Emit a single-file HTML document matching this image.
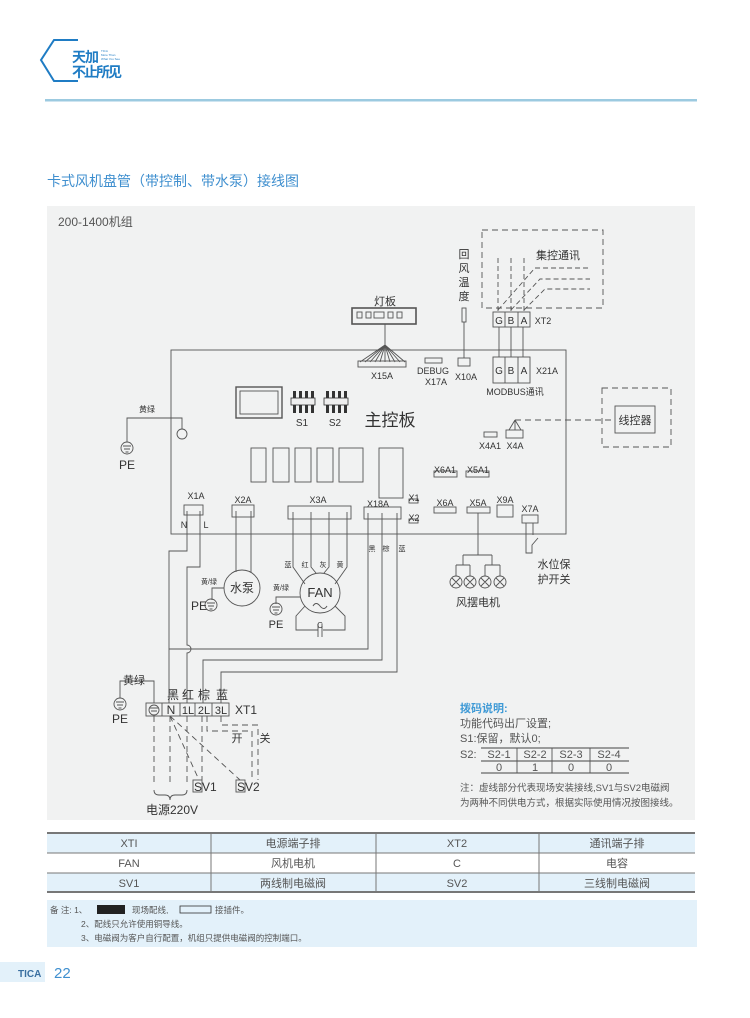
<!DOCTYPE html>
<html><head><meta charset="utf-8"><style>
body{margin:0;background:#fff;}
svg{display:block;font-family:"Liberation Sans","Noto Sans CJK SC",sans-serif;}
</style></head><body>
<svg width="750" height="1018" viewBox="0 0 750 1018" xmlns="http://www.w3.org/2000/svg">
<rect width="750" height="1018" fill="#fff"/>
<!-- logo -->
<path d="M78 40 L54 40 L41 60 L54 81 L78 81" fill="none" stroke="#1f7cc4" stroke-width="2"/>
<text x="72" y="62" font-size="14" font-weight="bold" fill="#1f7cc4" letter-spacing="-1">天加</text>
<text x="72" y="77" font-size="14" font-weight="bold" fill="#1f7cc4" letter-spacing="-2">不止所见</text>
<text x="101" y="52" font-size="3" fill="#1f7cc4">TICA</text>
<text x="101" y="56" font-size="3" fill="#1f7cc4">More Than</text>
<text x="101" y="60" font-size="3" fill="#1f7cc4">What You See</text>
<rect x="45" y="99" width="652" height="2.5" fill="#9ccae0"/>
<text x="47" y="186" font-size="14" fill="#3f8fcf">卡式风机盘管（带控制、带水泵）接线图</text>
<rect x="47" y="206" width="648" height="614" fill="#f1f2f2"/>
<text x="58" y="226" font-size="12" fill="#555">200-1400机组</text>

<g stroke="#555" stroke-width="0.9" fill="none">
<rect x="171" y="350" width="395" height="184"/>
<rect x="352" y="308" width="64" height="16" stroke-width="1.6"/>
<rect x="357" y="312" width="5" height="6"/><rect x="366" y="312" width="5" height="6"/><rect x="374" y="312" width="10" height="6"/><rect x="388" y="312" width="5" height="6"/><rect x="397" y="312" width="5" height="6"/>
<line x1="385" y1="324" x2="385" y2="345"/>
<path d="M385 345 L360 362 M385 345 L365 362 M385 345 L370 362 M385 345 L375 362 M385 345 L380 362 M385 345 L385 362 M385 345 L390 362 M385 345 L395 362 M385 345 L400 362 M385 345 L405 362"/>
<rect x="358" y="361" width="48" height="6"/>
<rect x="425" y="358" width="17" height="5"/>
<rect x="458" y="358" width="12" height="8"/>
<line x1="464" y1="322" x2="464" y2="358"/>
<rect x="462" y="308" width="4" height="14"/>
<rect x="482" y="230" width="121" height="78" stroke-dasharray="6,4"/>
<g stroke-dasharray="5,3">
<line x1="498" y1="258" x2="498" y2="312"/><line x1="511" y1="258" x2="511" y2="312"/><line x1="524" y1="258" x2="524" y2="312"/>
<path d="M498 310 L535 268 L590 268 M511 310 L540 279 L590 279 M524 310 L545 289 L590 289"/>
</g>
<rect x="493" y="312" width="37" height="15" fill="#f1f2f2"/><line x1="505" y1="312" x2="505" y2="327"/><line x1="518" y1="312" x2="518" y2="327"/>
<line x1="499" y1="327" x2="499" y2="357"/><line x1="511" y1="327" x2="511" y2="357"/><line x1="523" y1="327" x2="523" y2="357"/>
<rect x="493" y="357" width="37" height="26"/><line x1="505" y1="357" x2="505" y2="383"/><line x1="518" y1="357" x2="518" y2="383"/>
<rect x="602" y="388" width="69" height="59" stroke-dasharray="6,4"/>
<rect x="615" y="406" width="40" height="27"/>
<path d="M515 420 L602 420 L615 420" stroke-dasharray="6,4"/>
<path d="M515 420 L509 430 M515 420 L515 430 M515 420 L521 430"/>
<rect x="484" y="432" width="13" height="5"/><rect x="506" y="430" width="17" height="8"/>
<rect x="236" y="387" width="46" height="31" stroke-width="1.4"/><rect x="240" y="391" width="38" height="23"/>
<rect x="251" y="448" width="15" height="34"/><rect x="273" y="448" width="16" height="34"/><rect x="295" y="448" width="16" height="34"/><rect x="317" y="448" width="16" height="34"/><rect x="339" y="448" width="24" height="34"/>
<rect x="379" y="448" width="24" height="50"/>
<rect x="434" y="471" width="23" height="6"/><rect x="466" y="471" width="23" height="6"/>
<circle cx="182" cy="434" r="5"/>
<path d="M182 429 L182 418 L127 418 L127 442"/>
<rect x="184" y="505" width="19" height="10"/><rect x="232" y="505" width="22" height="12"/>
<rect x="288" y="506" width="63" height="13"/><rect x="364" y="507" width="37" height="12"/>
<rect x="409" y="499" width="9" height="4"/><rect x="409" y="519" width="9" height="4"/>
<rect x="434" y="507" width="22" height="6"/><rect x="467" y="507" width="23" height="6"/>
<rect x="497" y="505" width="16" height="12"/><rect x="522" y="515" width="16" height="8"/>
<path d="M187 511 L187 551 L169 551 L169 703"/>
<path d="M200 511 L200 567 L187 567 L187 645 A4 4 0 0 1 187 653 L187 703" />
<path d="M368 513 L368 649 L169 649"/>
<path d="M382 513 L382 660 L203 660 L203 703"/>
<path d="M397 513 L397 672 L221 672 L221 703"/>
<path d="M236 511 L236 572 M251 511 L251 572"/>
<circle cx="242" cy="588" r="18"/>
<path d="M224 588 L212 588 L212 600"/>
<path d="M293 512 L293 567 L305 584 M311 512 L311 567 L316 573 M329 512 L329 567 L324 573 M347 512 L347 567 L335 584"/>
<circle cx="320" cy="593" r="20"/>
<path d="M300 597 L276 597 L276 604"/>
<path d="M305 606 L296 616 L296 630 L318 630 M323 630 L345 630 L345 616 L335 606"/>
<path d="M318 624 L318 637 M322 624 L322 637"/>
<path d="M478 513 L478 555 M463 555 L492 555 M463 555 L463 565 M492 555 L492 565 M456 565 L470 565 M485 565 L500 565 M456 565 L456 576 M470 565 L470 576 M485 565 L485 576 M500 565 L500 576"/>
<g><circle cx="456" cy="582" r="6"/><circle cx="470" cy="582" r="6"/><circle cx="485" cy="582" r="6"/><circle cx="500" cy="582" r="6"/>
<path d="M452 578 L460 586 M460 578 L452 586 M466 578 L474 586 M474 578 L466 586 M481 578 L489 586 M489 578 L481 586 M496 578 L504 586 M504 578 L496 586"/></g>
<path d="M526 523 L526 553 L532 553 L532 545 L538 538 M533 523 L533 535"/>
<rect x="146" y="703" width="83" height="13"/>
<path d="M162 703 L162 716 M180 703 L180 716 M195 703 L195 716 M212 703 L212 716"/>
<path d="M154 703 L154 681 L120 681 L120 698"/>
<g stroke-dasharray="6,4">
<path d="M154 716 L154 785 M170 716 L170 785 M187 716 L187 785 M202 716 L202 780 M207 716 L207 731 L252 731 L252 780 M221 716 L221 725 L258 725 L258 780"/>
<path d="M170 716 L199 780 M170 716 L240 780"/>
</g>
<rect x="193" y="780" width="9" height="12"/><rect x="236" y="780" width="9" height="12"/>
<path d="M154 790 Q154 795 159 795 L165 795 Q170 795 170 800 Q170 795 175 795 L182 795 Q187 795 187 790"/>
<g>
<circle cx="127" cy="448" r="6"/><path d="M123 446 L131 446 M124 449 L130 449 M125.5 452 L128.5 452"/>
<circle cx="211" cy="605" r="6"/><path d="M207 603 L215 603 M208 606 L214 606 M209.5 609 L212.5 609"/>
<circle cx="276" cy="609" r="6"/><path d="M272 607 L280 607 M273 610 L279 610 M274.5 613 L277.5 613"/>
<circle cx="120" cy="704" r="6"/><path d="M116 702 L124 702 M117 705 L123 705 M118.5 708 L121.5 708"/>
<circle cx="154" cy="710" r="5"/><path d="M150 708 L158 708 M151 711 L157 711"/>
</g>
<path d="M481 748 L629 748 M481 761 L629 761 M481 773 L629 773" stroke="#444"/>
<path d="M517 748 L517 773 M552 748 L552 773 M590 748 L590 773"/>
</g>
<!-- DIP switches -->
<g fill="#333">
<rect x="293" y="391" width="3" height="22"/><rect x="299" y="391" width="3" height="22"/><rect x="305" y="391" width="3" height="22"/><rect x="311" y="391" width="3" height="22"/>
<rect x="326" y="391" width="3" height="22"/><rect x="332" y="391" width="3" height="22"/><rect x="338" y="391" width="3" height="22"/><rect x="344" y="391" width="3" height="22"/>
</g>
<rect x="291" y="398" width="24" height="7" fill="#eee" stroke="#333" stroke-width="0.8"/>
<rect x="324" y="398" width="24" height="7" fill="#eee" stroke="#333" stroke-width="0.8"/>
<path d="M313 606 Q316 601 320 606 Q324 611 327 606" stroke="#555" fill="none"/>

<g font-size="10" fill="#333" text-anchor="middle">
<text x="385" y="305" font-size="11">灯板</text>
<text x="382" y="379" font-size="9">X15A</text>
<text x="433" y="374" font-size="9">DEBUG</text>
<text x="436" y="385" font-size="9">X17A</text>
<text x="466" y="380" font-size="9">X10A</text>
<text x="464" y="258" font-size="11">回</text><text x="464" y="272" font-size="11">风</text><text x="464" y="286" font-size="11">温</text><text x="464" y="300" font-size="11">度</text>
<text x="558" y="259" font-size="11">集控通讯</text>
<text x="499" y="324">G</text><text x="511" y="324">B</text><text x="524" y="324">A</text>
<text x="499" y="374">G</text><text x="511" y="374">B</text><text x="524" y="374">A</text>
<text x="543" y="324" font-size="9">XT2</text>
<text x="547" y="374" font-size="9">X21A</text>
<text x="515" y="395" font-size="9">MODBUS通讯</text>
<text x="635" y="424" font-size="11">线控器</text>
<text x="490" y="449" font-size="9">X4A1</text><text x="515" y="449" font-size="9">X4A</text>
<text x="302" y="426">S1</text><text x="335" y="426">S2</text>
<text x="390" y="426" font-size="17">主控板</text>
<text x="445" y="473" font-size="9">X6A1</text><text x="478" y="473" font-size="9">X5A1</text>
<text x="196" y="499" font-size="9">X1A</text><text x="243" y="503" font-size="9">X2A</text>
<text x="318" y="503" font-size="9">X3A</text><text x="378" y="507" font-size="9">X18A</text>
<text x="414" y="501" font-size="9">X1</text><text x="414" y="521" font-size="9">X2</text>
<text x="445" y="506" font-size="9">X6A</text><text x="478" y="506" font-size="9">X5A</text>
<text x="505" y="503" font-size="9">X9A</text><text x="530" y="512" font-size="9">X7A</text>
<text x="184" y="528" font-size="9">N</text><text x="206" y="528" font-size="9">L</text>
<text x="147" y="412" font-size="8">黄绿</text>
<text x="127" y="469" font-size="12">PE</text>
<text x="372" y="551" font-size="7">黑</text><text x="386" y="551" font-size="7">棕</text><text x="402" y="551" font-size="7">蓝</text>
<text x="209" y="584" font-size="7">黄/绿</text>
<text x="242" y="592" font-size="12">水泵</text>
<text x="199" y="610" font-size="12">PE</text>
<text x="288" y="567" font-size="7">蓝</text><text x="305" y="567" font-size="7">红</text><text x="323" y="567" font-size="7">灰</text><text x="340" y="567" font-size="7">黄</text>
<text x="281" y="590" font-size="7">黄/绿</text>
<text x="320" y="597" font-size="13">FAN</text>
<text x="276" y="628" font-size="11">PE</text>
<text x="320" y="628" font-size="8">C</text>
<text x="478" y="606" font-size="11">风摆电机</text>
<text x="554" y="568" font-size="11">水位保</text><text x="554" y="583" font-size="11">护开关</text>
<text x="134" y="684" font-size="11">黄绿</text>
<text x="120" y="723" font-size="12">PE</text>
<text x="173" y="699" font-size="12">黑</text><text x="188" y="699" font-size="12">红</text><text x="204" y="699" font-size="12">棕</text><text x="222" y="699" font-size="12">蓝</text>
<text x="171" y="714" font-size="12">N</text><text x="188" y="714" font-size="11">1L</text><text x="204" y="714" font-size="11">2L</text><text x="221" y="714" font-size="11">3L</text>
<text x="246" y="714" font-size="12">XT1</text>
<text x="237" y="742" font-size="11">开</text><text x="265" y="742" font-size="11">关</text>
<text x="194" y="791" font-size="12" text-anchor="start">SV1</text><text x="237" y="791" font-size="12" text-anchor="start">SV2</text>
<text x="172" y="814" font-size="12">电源220V</text>
</g>

<g font-size="11" fill="#555">
<text x="460" y="712" fill="#3f9ad6" font-weight="bold">拨码说明:</text>
<text x="460" y="727">功能代码出厂设置;</text>
<text x="460" y="742">S1:保留，默认0;</text>
<text x="460" y="758">S2:</text>
<g text-anchor="middle"><text x="499" y="758">S2-1</text><text x="535" y="758">S2-2</text><text x="571" y="758">S2-3</text><text x="609" y="758">S2-4</text>
<text x="499" y="771">0</text><text x="535" y="771">1</text><text x="571" y="771">0</text><text x="609" y="771">0</text></g>
<text x="460" y="791" font-size="9.5">注：虚线部分代表现场安装接线,SV1与SV2电磁阀</text>
<text x="460" y="806" font-size="9.5">为两种不同供电方式，根据实际使用情况按图接线。</text>
</g>

<rect x="47" y="833" width="648" height="20" fill="#e3f1fa"/>
<rect x="47" y="873" width="648" height="19" fill="#e3f1fa"/>
<g stroke="#777" fill="none">
<line x1="47" y1="833" x2="695" y2="833" stroke-width="2"/>
<line x1="47" y1="892" x2="695" y2="892" stroke-width="2"/>
<line x1="47" y1="853" x2="695" y2="853"/><line x1="47" y1="873" x2="695" y2="873"/>
<line x1="211" y1="833" x2="211" y2="892"/><line x1="376" y1="833" x2="376" y2="892"/><line x1="539" y1="833" x2="539" y2="892"/>
</g>
<g font-size="11" fill="#555" text-anchor="middle">
<text x="129" y="847">XTI</text><text x="293" y="847">电源端子排</text><text x="457" y="847">XT2</text><text x="617" y="847">通讯端子排</text>
<text x="129" y="867">FAN</text><text x="293" y="867">风机电机</text><text x="457" y="867">C</text><text x="617" y="867">电容</text>
<text x="129" y="887">SV1</text><text x="293" y="887">两线制电磁阀</text><text x="457" y="887">SV2</text><text x="617" y="887">三线制电磁阀</text>
</g>
<rect x="47" y="900" width="650" height="47" fill="#e3f1fa"/>
<g font-size="8.5" fill="#555">
<text x="50" y="913">备 注: 1、</text>
<rect x="97" y="905" width="28" height="9" fill="#222"/>
<text x="132" y="913">现场配线,</text>
<rect x="180" y="906" width="31" height="7" fill="none" stroke="#333" stroke-width="0.8"/>
<text x="215" y="913">接插件。</text>
<text x="81" y="927">2、配线只允许使用铜导线。</text>
<text x="81" y="941">3、电磁阀为客户自行配置，机组只提供电磁阀的控制端口。</text>
</g>
<rect x="0" y="962" width="45" height="20" fill="#e3f1fa"/>
<text x="18" y="977" font-size="10" font-weight="bold" fill="#3a6fa0">TICA</text>
<text x="54" y="978" font-size="15" fill="#3f8fcf">22</text>
</svg>
</body></html>
